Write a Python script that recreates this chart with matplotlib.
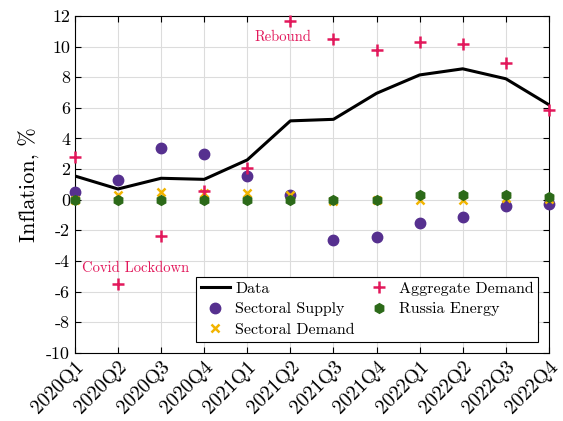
import matplotlib
matplotlib.use("Agg")
import matplotlib.pyplot as plt
import numpy as np

plt.rcParams['font.family'] = ['cmr10', 'DejaVu Serif']
plt.rcParams['mathtext.fontset'] = 'cm'
plt.rcParams['axes.unicode_minus'] = False
plt.rcParams['axes.formatter.use_mathtext'] = False

# Quarters
quarters = ['2020Q1', '2020Q2', '2020Q3', '2020Q4', '2021Q1', '2021Q2',
            '2021Q3', '2021Q4', '2022Q1', '2022Q2', '2022Q3', '2022Q4']

# Series (inflation, %)
data = [1.55, 0.7, 1.4, 1.33, 2.6, 5.15, 5.25, 6.95, 8.15, 8.55, 7.9, 6.2]
sectoral_supply = [0.5, 1.3, 3.4, 3.0, 1.55, 0.3, -2.65, -2.45, -1.5, -1.15, -0.4, -0.3]
sectoral_demand = [0.0, 0.3, 0.5, 0.45, 0.45, 0.3, -0.1, 0.0, 0.0, -0.05, 0.1, 0.05]
aggregate_demand = [2.8, -5.5, -2.35, 0.6, 2.1, 11.7, 10.5, 9.8, 10.3, 10.15, 8.9, 5.85]
russia_energy = [0.0, 0.0, 0.0, 0.0, 0.0, 0.0, 0.0, 0.0, 0.3, 0.3, 0.3, 0.2]

x = np.arange(len(quarters))

fig = plt.figure(figsize=(5.63, 4.21), dpi=100)
ax = fig.add_axes([0.133, 0.162, 0.842, 0.800])

ax.plot(x, data, color='black', lw=2.2, label='Data', zorder=3)
ax.plot(x, sectoral_supply, 'o', color='#56308f', ms=7.5, label='Sectoral Supply', clip_on=False, zorder=4)
ax.plot(x, sectoral_demand, 'x', color='#f2b400', ms=5.5, mew=1.8, label='Sectoral Demand', clip_on=False, zorder=4)
ax.plot(x, aggregate_demand, '+', color='#e2185b', ms=8, mew=1.8, label='Aggregate Demand', clip_on=False, zorder=5)
ax.plot(x, russia_energy, 'h', color='#2c6a19', ms=7, label='Russia Energy', clip_on=False, zorder=5)

ax.text(4.83, 10.65, 'Rebound', color='#e2185b', fontsize=10.5, ha='center', va='center')
ax.text(1.4, -4.45, 'Covid Lockdown', color='#e2185b', fontsize=10.5, ha='center', va='center')

ax.set_xlim(0, 11)
ax.set_ylim(-10, 12)
ax.set_yticks(np.arange(-10, 13, 2))
ax.set_xticks(x)
ax.set_xticklabels(quarters, rotation=45, ha='right', rotation_mode='anchor')
ax.tick_params(direction='in', top=True, right=True, labelsize=13, length=4)
ax.tick_params(axis='x', labelsize=14.5)
ax.grid(True, color='#dcdcdc', lw=0.8)
ax.set_axisbelow(True)
ax.set_ylabel('Inflation, %', fontsize=16)

leg = ax.legend(loc='lower right', ncol=2, fontsize=11.5, frameon=True, fancybox=False,
                edgecolor='black', framealpha=1, handlelength=1.8, borderpad=0.3,
                labelspacing=0.4, columnspacing=0.6, handletextpad=0.35,
                borderaxespad=0, bbox_to_anchor=(0.977, 0.033))
leg.get_frame().set_linewidth(0.8)

fig.savefig('out.png', dpi=100)
